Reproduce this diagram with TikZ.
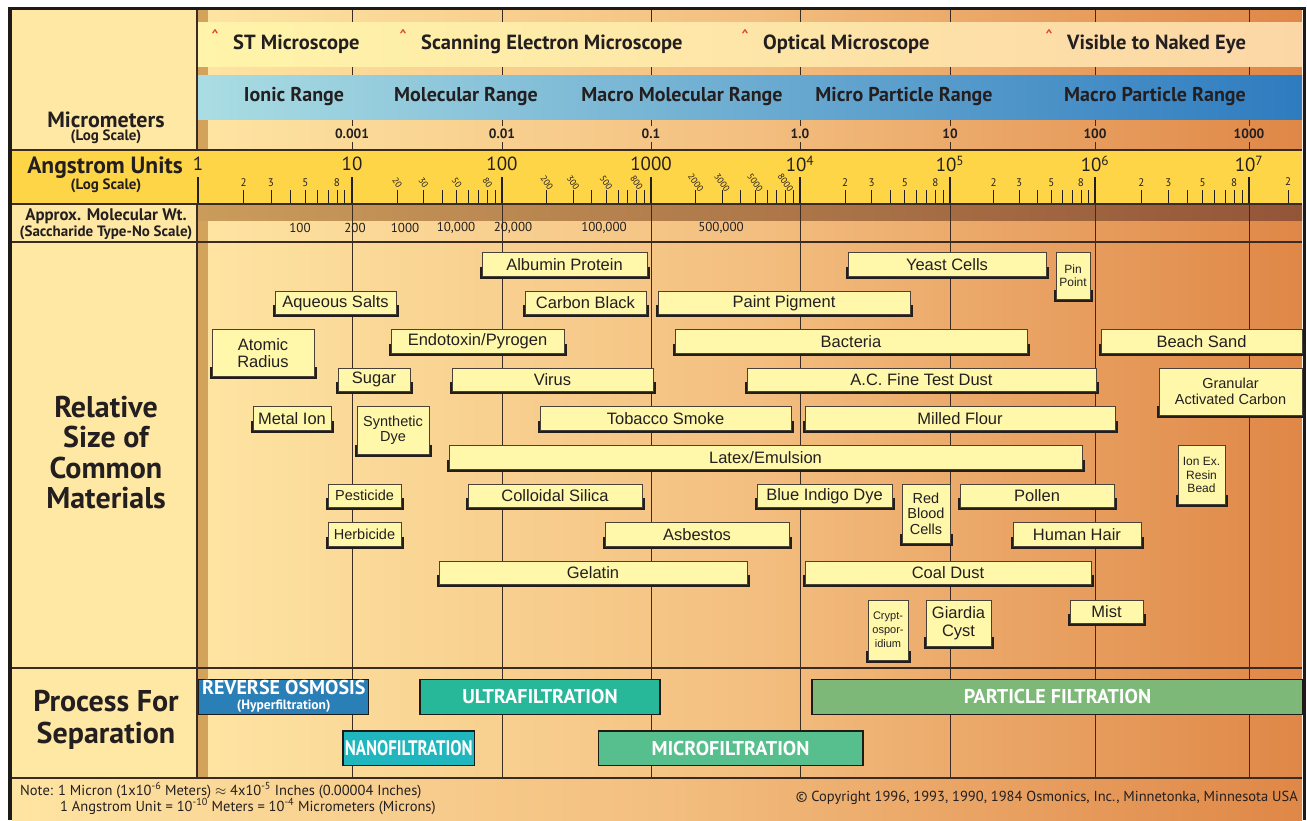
\documentclass[tikz,border=0pt]{standalone}
\usepackage{fontspec}
\setmainfont{Liberation Sans}
\newfontfamily\gill{PT Sans}
\newfontfamily\gillc[FakeStretch=0.8]{PT Sans}
\usepackage{tikz}
\usetikzlibrary{calc}
\definecolor{ink}{HTML}{231F20}
\definecolor{colbg}{HTML}{FFE8A3}
\definecolor{bgl}{HTML}{FEE4A2}
\definecolor{bgm}{HTML}{F3BF80}
\definecolor{bgr}{HTML}{DF8747}
\definecolor{angy}{HTML}{FFD548}
\definecolor{brownl}{HTML}{CA9C5B}
\definecolor{brownr}{HTML}{935538}
\definecolor{stripe}{HTML}{D3A35C}
\definecolor{scopel}{HTML}{FFF4A9}
\definecolor{scoper}{HTML}{FCD7A6}
\definecolor{bluel}{HTML}{AADDE3}
\definecolor{bluer}{HTML}{2E7BBF}
\definecolor{caretc}{HTML}{E2452F}
\definecolor{gridc}{HTML}{3A2C22}
\definecolor{framec}{HTML}{1E1A18}
\definecolor{boxfill}{HTML}{FFF8AA}
\definecolor{boxline}{HTML}{4A4238}
\definecolor{shadowc}{HTML}{221E1C}
\definecolor{rocol}{HTML}{2A7FB6}
\definecolor{ufcol}{HTML}{27B899}
\definecolor{pfcol}{HTML}{7DB879}
\definecolor{nfcol}{HTML}{20B6BE}
\definecolor{mfcol}{HTML}{57BF8D}
\tikzset{
  grid/.style={draw=gridc, line width=0.9pt},
  rowline/.style={draw=gridc, line width=1.3pt},
  minortick/.style={draw=ink, line width=0.9pt},
  majortick/.style={draw=ink, line width=2pt},
  mat/.style={draw=boxline, line width=0.8pt, fill=boxfill, text=ink, inner sep=0pt,
    align=center, font=\fontsize{16.5}{17.5}\selectfont},
  matsm/.style={mat, font=\fontsize{14.5}{15.5}\selectfont},
  matxs/.style={mat, font=\fontsize{12}{13.5}\selectfont},
  matxxs/.style={mat, font=\fontsize{11}{14}\selectfont},
  proc/.style={draw=framec, line width=1.5pt, text=white, inner sep=0pt, align=center,
    font=\gill\bfseries\fontsize{20}{20}\selectfont},
  scopelab/.style={text=ink, inner sep=0pt, font=\gill\bfseries\fontsize{20.5}{21}\selectfont},
  caretlab/.style={text=caretc, inner sep=0pt, font=\gill\bfseries\fontsize{14}{14}\selectfont},
  rangelab/.style={text=ink, inner sep=0pt, font=\gill\bfseries\fontsize{20}{21}\selectfont},
  umlab/.style={text=ink, inner sep=0pt, font=\gill\bfseries\fontsize{13.5}{14}\selectfont},
  declab/.style={text=ink, inner sep=0pt, font=\gill\fontsize{19}{20}\selectfont},
  ticklab/.style={text=ink, inner sep=0pt, font=\gill\fontsize{11}{11}\selectfont},
  mwlab/.style={text=ink, inner sep=0pt, font=\gill\fontsize{13}{14}\selectfont},
  colhead/.style={text=ink, inner sep=0pt, align=center, font=\gill\bfseries\fontsize{22}{23}\selectfont},
  colsub/.style={text=ink, inner sep=0pt, font=\gill\bfseries\fontsize{15}{16}\selectfont},
  colbig/.style={text=ink, inner sep=0pt, align=center, font=\gill\bfseries\fontsize{30}{30.6}\selectfont},
  notelab/.style={text=ink, inner sep=0pt, font=\gill\fontsize{14.5}{15}\selectfont}
}
\begin{document}
\begin{tikzpicture}[x=1pt,y=-1pt]
  \useasboundingbox (0,0) rectangle (1307,820);
  \fill[white] (0,0) rectangle (1307,820);
  % backgrounds
  \shade[left color=bgl, right color=bgr, middle color=bgm] (198,10) rectangle (1302,778);
  \shade[left color=bgl, right color=bgr, middle color=bgm] (12,778) rectangle (1302,820);
  \fill[colbg] (12,10) rectangle (197,778);
  \fill[stripe] (198,10) rectangle (208,778);
  \shade[left color=brownl, right color=brownr] (198,204) rectangle (1302,220);
  % decade lines
  \foreach \x in {352,502,651,800,950,1095,1249} {
    \draw[grid] (\x,10) -- (\x,126);
    \draw[grid] (\x,142) -- (\x,778);
  }
  % microscope and range bands
  \shade[left color=scopel, right color=scoper] (198,22.5) rectangle (1302,66.5);
  \shade[left color=bluel, right color=bluer] (198,75.5) rectangle (1302,119.5);
  \foreach \x/\lab [count=\i] in {215/ST Microscope, 403/Scanning Electron Microscope,
      745/Optical Microscope, 1049/Visible to Naked Eye} {
    \node[caretlab] (caret\i) at (\x,35) {\textasciicircum};
    \node[scopelab, anchor=west] (scope\i) at (\x+18,44.5) {\lab};
  }
  \foreach \x/\lab [count=\i] in {294/Ionic Range, 466/Molecular Range, 682/Macro Molecular Range,
      904/Micro Particle Range, 1155/Macro Particle Range}
    \node[rangelab] (range\i) at (\x,97) {\lab};
  \foreach \x/\lab [count=\i] in {352/0.001, 502/0.01, 651/0.1, 800/1.0, 950/10, 1095/100, 1249/1000}
    \node[umlab] (um\i) at (\x,134) {\lab};
  % angstrom scale
  \fill[angy] (12,150) rectangle (1302,204);
  \foreach \a/\b/\z/\r/\s [count=\i] in {197/352/{}/0/11, 352/502/0/-55/9, 502/651/00/-55/9,
      651/800/000/-55/9, 800/950/{}/0/11, 950/1095/{}/0/11, 1095/1249/{}/0/11} {
    \foreach \m in {2,...,9}
      \draw[minortick] ({\a+(\b-\a)*ln(\m)/ln(10)},190) -- ++(0,14);
    \foreach \m in {2,3,5,8}
      \node[ticklab, rotate=\r, font=\gill\fontsize{\s}{\s}\selectfont] (tick\i\m)
        at ({\a+(\b-\a)*ln(\m)/ln(10)},183) {\m\z};
  }
  \draw[minortick] (1288,190) -- ++(0,14);
  \node[ticklab] (tick82) at (1288,182) {2};
  \foreach \x/\lab [count=\i] in {198/1, 352/10, 502/100, 651/1000, 800/{10\textsuperscript{4}},
      950/{10\textsuperscript{5}}, 1095/{10\textsuperscript{6}}, 1249/{10\textsuperscript{7}}} {
    \draw[majortick] (\x,177) -- (\x,204);
    \node[declab] (dec\i) at (\x,164) {\lab};
  }
  % molecular weight
  \foreach \x/\lab [count=\i] in {300/100, 355/200, 405/1000, 456/{10,000}, 513/{20,000},
      604/{100,000}, 721/{500,000}}
    \node[mwlab] (mw\i) at (\x,228) {\lab};
  % row and column lines
  \foreach \y in {150,204,242,668,778}
    \draw[rowline] (12,\y) -- (1302,\y);
  \draw[rowline] (197,10) -- (197,150) (197,204) -- (197,778);
  \draw[framec, line width=3.5pt] (10,820) -- (10,8.5) -- (1304.5,8.5) -- (1304.5,820);
  % left column
  \node[colhead] (umhead) at (106,120) {Micrometers};
  \node[colsub] (umsub) at (106,137) {(Log Scale)};
  \node[colhead, font=\gill\bfseries\fontsize{23.5}{24}\selectfont] (ahead) at (105,168) {Angstrom Units};
  \node[colsub] (asub) at (106,186) {(Log Scale)};
  \node[colsub, font=\gill\bfseries\fontsize{16.8}{17}\selectfont] (mwhead) at (106,216) {Approx. Molecular Wt.};
  \node[colsub, font=\gill\bfseries\fontsize{15}{15}\selectfont] (mwsub) at (106,232.5) {(Saccharide Type-No Scale)};
  \node[colbig] (relhead) at (106,452.5) {Relative\\Size of\\Common\\Materials};
  \node[colbig, font=\gill\bfseries\fontsize{30}{31.7}\selectfont] (prochead) at (106,720) {Process For\\Separation};
  % relative size of common materials
  \foreach \nm/\xa/\xb/\ty/\bh/\sty/\txt in {
      albumin/482/647/252.7/23.5/mat/{Albumin Protein},
      yeast/848/1046/252.7/23.5/mat/{Yeast Cells},
      pinpoint/1056/1090/252.7/46.5/matxs/{Pin\\Point},
      aqsalts/275/396/291/23.5/mat/{Aqueous Salts},
      carbon/525/646/291/23.5/mat/{Carbon Black},
      paint/658/910/291/23.5/mat/{Paint Pigment},
      atomic/212/314/329.5/47/mat/{Atomic\\Radius},
      endotoxin/391/564/329.5/23.5/mat/{Endotoxin/Pyrogen},
      bacteria/675/1027/329.5/23.5/mat/{Bacteria},
      sand/1101/1302/329.5/23.5/mat/{Beach Sand},
      sugar/338/410/368/23.5/mat/{Sugar},
      virus/452/653/368/23.5/mat/{Virus},
      acdust/747/1096/368/23.5/mat/{A.C. Fine Test Dust},
      gac/1159/1302/368/47/matsm/{Granular\\Activated Carbon},
      metalion/253/331/406.7/23.5/mat/{Metal Ion},
      dye/357/429/406.7/47.5/matsm/{Synthetic\\Dye},
      tobacco/540/791/406.7/23.5/mat/{Tobacco Smoke},
      flour/805/1115/406.7/23.5/mat/{Milled Flour},
      latex/449/1082/445.5/23.5/mat/{Latex/Emulsion},
      resin/1178/1225/445.5/59/matxs/{Ion Ex.\\Resin\\Bead},
      pesticide/328/401/484/23.5/matsm/{Pesticide},
      silica/468/642/484/23.5/mat/{Colloidal Silica},
      indigo/757/892/484/23.5/mat/{Blue Indigo Dye},
      rbc/902/950/484/59/matsm/{Red\\Blood\\Cells},
      pollen/960/1114/484/23.5/mat/{Pollen},
      herbicide/328/401/522.7/23.5/matsm/{Herbicide},
      asbestos/605/789/522.7/23.5/mat/{Asbestos},
      hair/1013/1141/522.7/23.5/mat/{Human Hair},
      gelatin/439/747/561.3/23.5/mat/{Gelatin},
      coaldust/805/1091/561.3/23.5/mat/{Coal Dust},
      crypto/868/908/600/60/matxxs/{Crypt-\\ospor-\\idium},
      giardia/926/991/600/46.7/mat/{Giardia\\Cyst},
      mist/1070/1143/600/23.5/mat/{Mist}} {
    \fill[shadowc] ({\xa-2},{\ty+\bh-9.5}) rectangle ({\xb+2.5},{\ty+\bh+2.5});
    \node[\sty, minimum width={(\xb-\xa)*1pt}, minimum height={\bh*1pt}] (\nm)
      at ({(\xa+\xb)/2},{\ty+\bh/2}) {\txt};
  }
  % process for separation
  \node[proc, fill=rocol, minimum width=170pt, minimum height=35pt] (ro) at (283.7,696.8)
    {REVERSE OSMOSIS\\[-5pt]{\fontsize{13.5}{14}\selectfont (Hyperfiltration)}};
  \node[proc, fill=ufcol, minimum width=240pt, minimum height=35pt] (uf) at (540,696.8) {ULTRAFILTRATION};
  \node[proc, fill=pfcol, minimum width=491pt, minimum height=35pt] (pf) at (1057.5,696.8) {PARTICLE FILTRATION};
  \node[proc, fill=nfcol, minimum width=131.5pt, minimum height=34.5pt,
    font=\gillc\bfseries\fontsize{21}{21}\selectfont] (nf) at (408.8,748) {NANOFILTRATION};
  \node[proc, fill=mfcol, minimum width=264.5pt, minimum height=34.5pt] (mf) at (730.5,748) {MICROFILTRATION};
  % notes
  \node[notelab, anchor=west] (note1) at (20,790.5)
    {Note: 1 Micron (1x10\textsuperscript{-6} Meters) $\approx$ 4x10\textsuperscript{-5} Inches (0.00004 Inches)};
  \node[notelab, anchor=west] (note2) at (60,806.5)
    {1 Angstrom Unit = 10\textsuperscript{-10} Meters = 10\textsuperscript{-4} Micrometers (Microns)};
  \node[notelab, anchor=east] (copyright) at (1298,798)
    {\textcopyright{} Copyright 1996, 1993, 1990, 1984 Osmonics, Inc., Minnetonka, Minnesota USA};
\end{tikzpicture}
\end{document}
